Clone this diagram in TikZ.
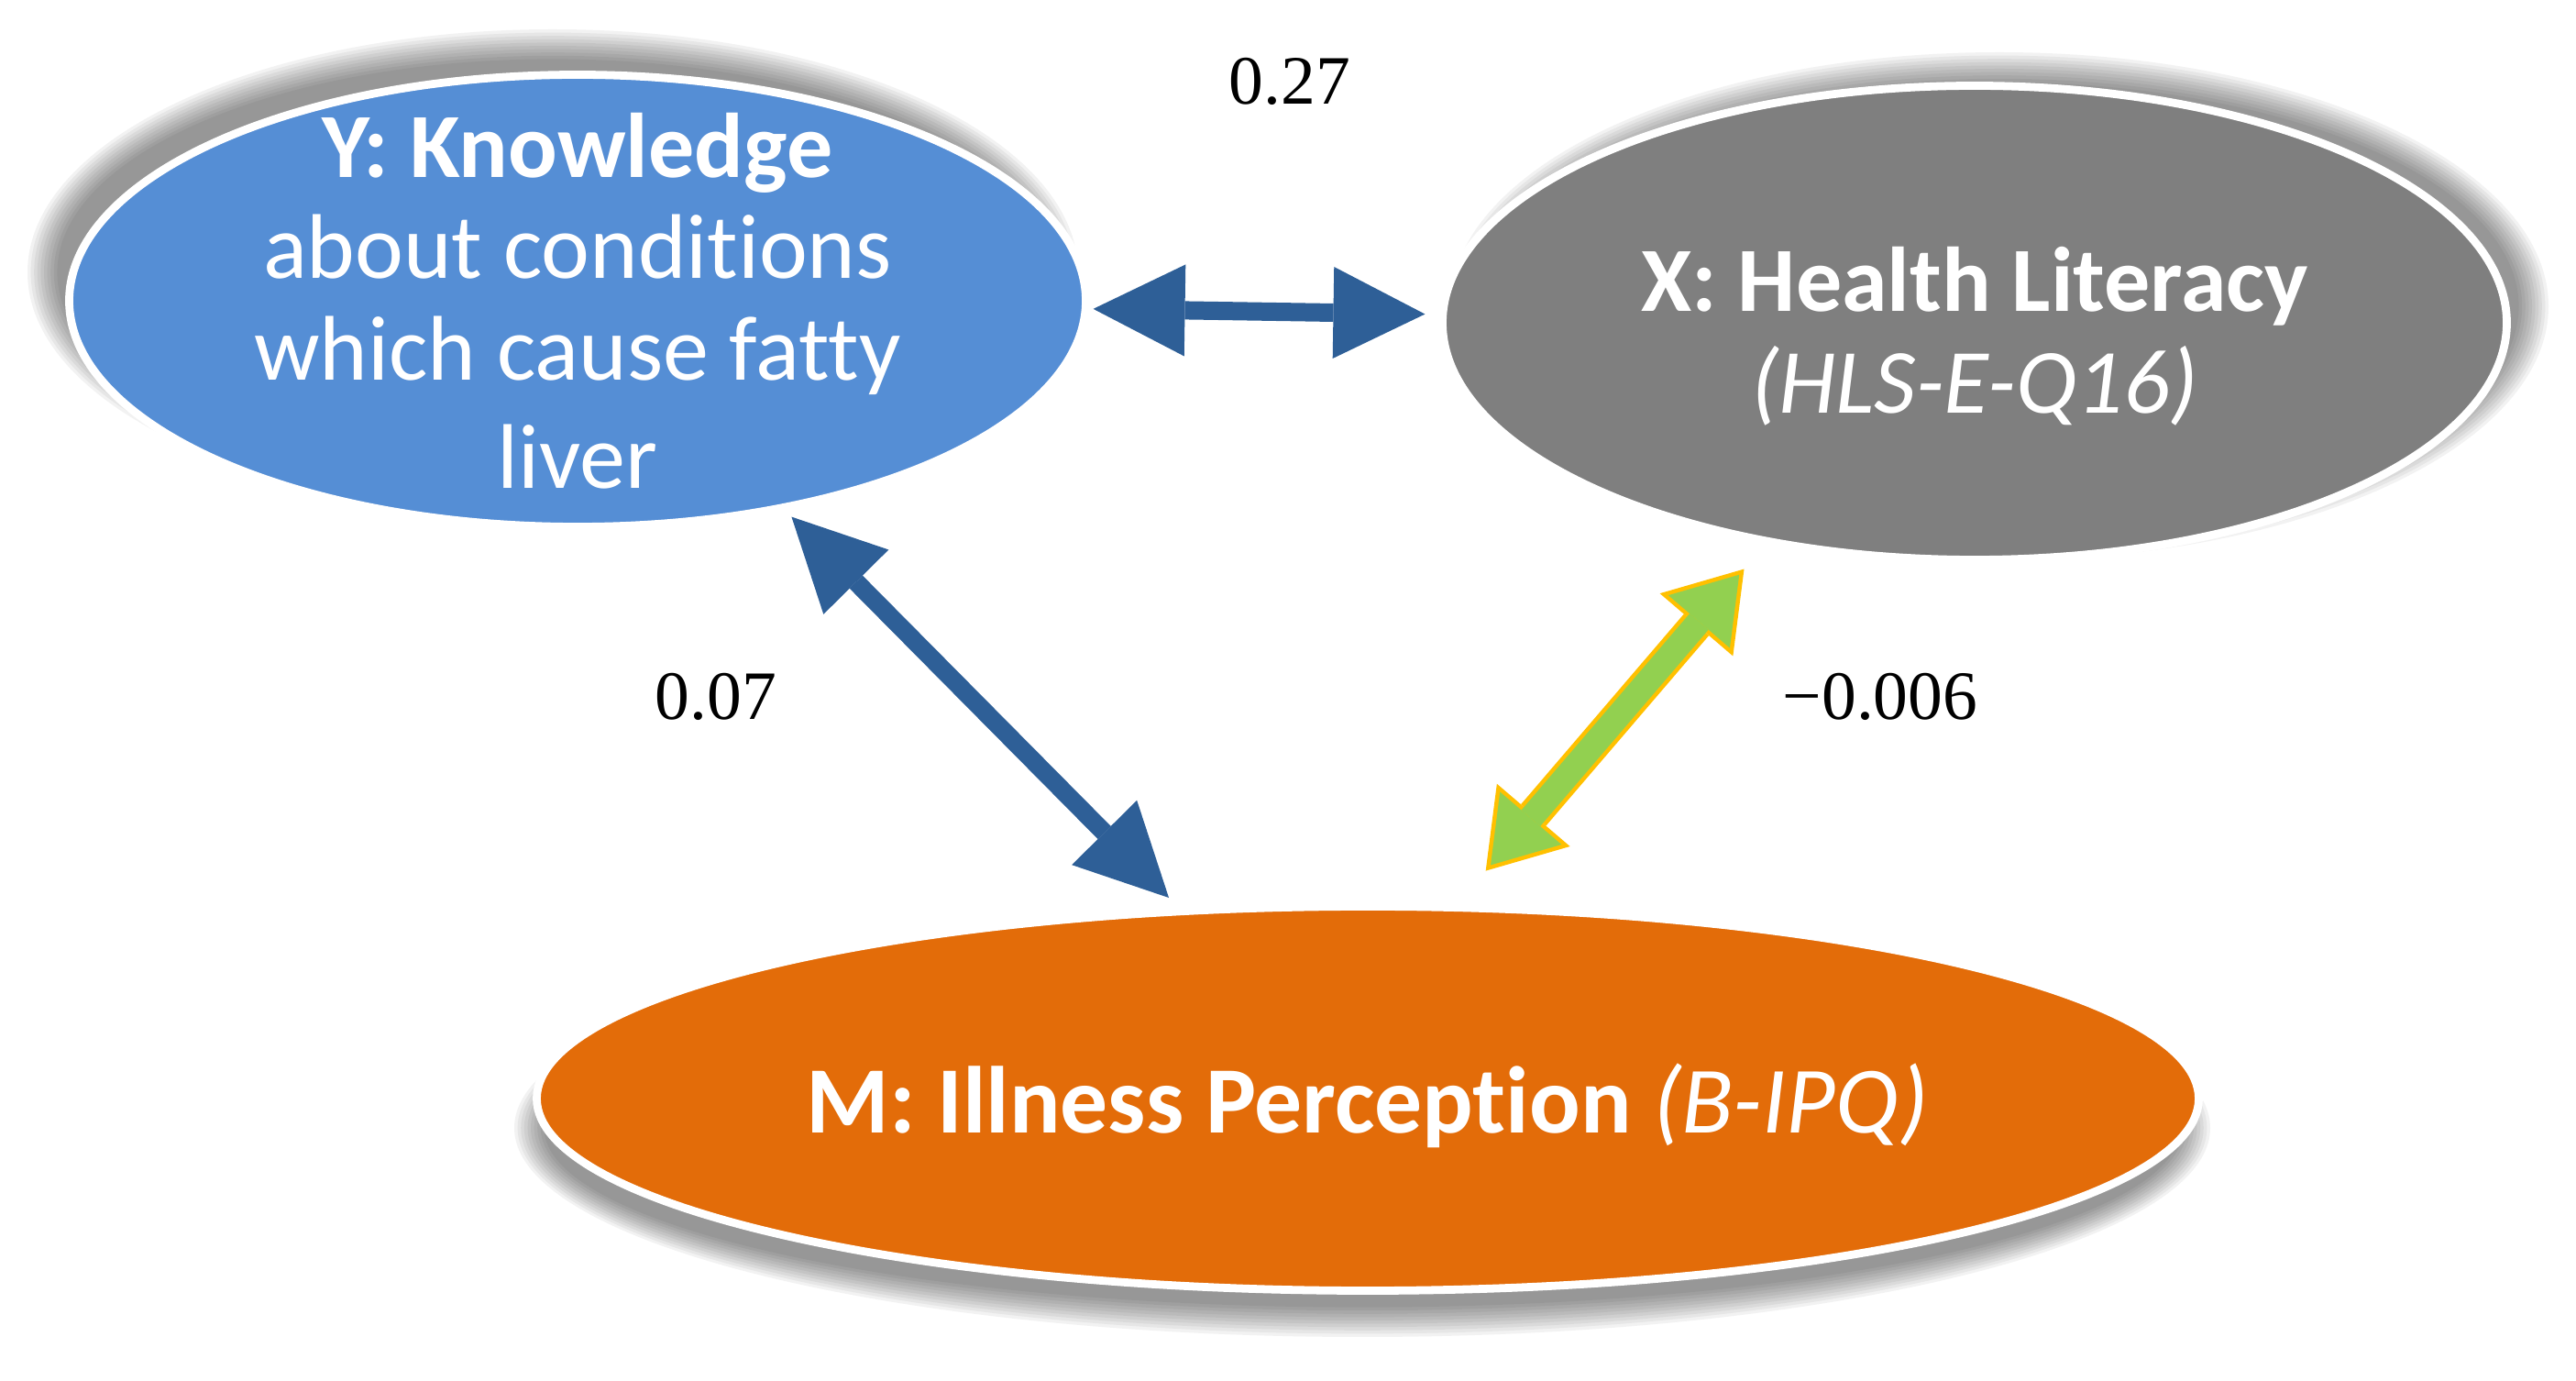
\documentclass[tikz,border=0pt]{standalone}
\usepackage{fontspec}
\setmainfont{Carlito}[RawFeature={-liga,-calt,-clig,-dlig}]
\newfontfamily\coeffont{Liberation Serif}
\usepackage{xcolor}
\definecolor{kblue}{HTML}{558ED5}
\definecolor{hlgray}{HTML}{7F7F7F}
\definecolor{iporange}{HTML}{E36C09}
\definecolor{arrowblue}{HTML}{2E5F97}
\definecolor{lime}{HTML}{92D050}
\definecolor{amber}{HTML}{FFC000}
\usepackage{tikz}
\usetikzlibrary{shapes,arrows.meta,positioning,calc}

\begin{document}
\begin{tikzpicture}[
    oval/.style={ellipse, draw=white, line width=2.5pt, inner sep=0pt},
    ovaltext/.style={text=white, font=\fontsize{28.5}{31.5}\selectfont, align=center},
    coef/.style={font=\coeffont\fontsize{21.5}{24}\selectfont, text=black},
    biarrow/.style={arrowblue, line width=0.2cm,
      {Triangle[length=1cm,width=1cm,line width=0pt]}-{Triangle[length=1cm,width=1cm,line width=0pt]}},
    limeedge/.style={amber, line width=0.36cm,
      {Triangle[length=0.8cm,width=1.05cm,line width=0pt]}-{Triangle[length=0.8cm,width=1.05cm,line width=0pt]}},
    limefill/.style={lime, line width=0.27cm, shorten <=0.082cm, shorten >=0.082cm,
      {Triangle[length=0.673cm,width=0.883cm,line width=0pt]}-{Triangle[length=0.673cm,width=0.883cm,line width=0pt]}}
  ]
        \useasboundingbox (0,0) rectangle (28.10,15.06);
        % soft shadows
        \foreach \i in {0,...,9} {
          \pgfmathsetmacro\e{0.14-0.036*\i}
          \fill[black, opacity=0.05] (6.03,12.09) ellipse [x radius={5.59+\e}, y radius={2.51+\e}];
          \fill[black, opacity=0.05] (21.81,11.72) ellipse [x radius={5.85+\e}, y radius={2.63+\e}];
          \fill[black, opacity=0.05] (14.86,2.76) ellipse [x radius={9.11+\e}, y radius={2.14+\e}];
        }
        \node[oval, fill=kblue, minimum width=11.09cm, minimum height=4.93cm] (Y) at (6.30,11.78) {};
        \node[oval, fill=hlgray, minimum width=11.61cm, minimum height=5.17cm] (X) at (21.54,11.54) {};
        \node[oval, fill=iporange, minimum width=18.13cm, minimum height=4.19cm] (M) at (14.92,3.08) {};
        \node[ovaltext] (Ytxt) at (Y.center) {\textbf{Y: Knowledge}\\about conditions\\which cause fatty\\[2pt]liver};
        \node[ovaltext] (Xtxt) at ([yshift=-0.15cm]X.center) {\textbf{X: Health Literacy}\\\textit{(HLS-E-Q16)}};
        \node[ovaltext, font=\fontsize{29.5}{32}\selectfont] (Mtxt) at ([yshift=-0.08cm]M.center) {\textbf{M: Illness Perception} \textit{(B-IPQ)}};
        \node[coef] (c27) at (14.07,14.17) {0.27};
        \node[coef] (c07) at (7.81,7.46) {0.07};
        \node[coef] (c006) at (20.51,7.46) {−0.006};
        \draw[biarrow, shorten <=0.04cm, shorten >=0.15cm] (Y) -- (X);
        \draw[biarrow, shorten <=0.09cm, shorten >=0.15cm] (Y) -- (M);
        \draw[limeedge] ([shift={(0.205,0.36)}]M.63) -- ([shift={(-0.254,-0.261)}]X.227);
        \draw[limefill] ([shift={(0.205,0.36)}]M.63) -- ([shift={(-0.254,-0.261)}]X.227);
      \end{tikzpicture}
\end{document}
